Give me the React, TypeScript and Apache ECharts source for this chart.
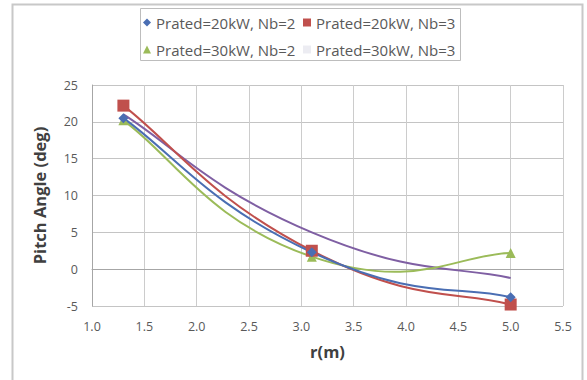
import React, { useEffect, useRef } from "react";
import * as echarts from "echarts";

const rValues = [1.3, 3.1, 5.0];
const s20kW2 = [20.5, 2.3, -3.8];
const s20kW3 = [22.2, 2.5, -4.8];
const s30kW2 = [20.2, 1.7, 2.2];
const s30kW3 = [21.0, 5.0, -1.2];
const seriesNames = [
  "Prated=20kW, Nb=2",
  "Prated=20kW, Nb=3",
  "Prated=30kW, Nb=2",
  "Prated=30kW, Nb=3",
];
const xTicks = { min: 1.0, max: 5.5, step: 0.5 };
const yTicks = { min: -5, max: 25, step: 5 };

const FONT = "'Open Sans', 'Liberation Sans', sans-serif";
const TXT = "#595959";
const TENSION = 0.27;

function pairs(vals: number[]) {
  return rValues.map((r, i) => [r, vals[i]]);
}

function smoothPath(pts: number[][]): string {
  let d = `M${pts[0][0]},${pts[0][1]}`;
  for (let i = 0; i < pts.length - 1; i++) {
    const p0 = pts[Math.max(0, i - 1)];
    const p1 = pts[i];
    const p2 = pts[i + 1];
    const p3 = pts[Math.min(pts.length - 1, i + 2)];
    const c1x = p1[0] + (p2[0] - p0[0]) * TENSION;
    const c1y = p1[1] + (p2[1] - p0[1]) * TENSION;
    const c2x = p2[0] - (p3[0] - p1[0]) * TENSION;
    const c2y = p2[1] - (p3[1] - p1[1]) * TENSION;
    d += ` C${c1x},${c1y} ${c2x},${c2y} ${p2[0]},${p2[1]}`;
  }
  return d;
}

function curveSeries(name: string, vals: number[], color: string, z: number) {
  const data = pairs(vals);
  return {
    name,
    type: "custom",
    data,
    encode: { x: 0, y: 1 },
    clip: true,
    z,
    silent: true,
    renderItem: (params: any, api: any) => {
      if (params.dataIndex !== 0) return null;
      const pts = data.map((p) => api.coord(p));
      return {
        type: "path",
        shape: { pathData: smoothPath(pts) },
        style: { fill: "none", stroke: color, lineWidth: 2 },
      };
    },
  };
}

function markerSeries(name: string, vals: number[], color: string, symbol: string, size: number, z: number) {
  return {
    name,
    type: "scatter",
    data: pairs(vals),
    symbol,
    symbolSize: size,
    itemStyle: { color, opacity: 1 },
    z,
  };
}

export default function App() {
  const ref = useRef<HTMLDivElement>(null);
  useEffect(() => {
    if (!ref.current) return;
    const chart = echarts.init(ref.current, undefined, { renderer: "svg" });
    const colors = ["#4a6eb3", "#c0504d", "#9bbb59", "#7f5fa3"];
    const legendBase = {
      orient: "vertical" as const,
      itemWidth: 8,
      itemHeight: 8,
      itemGap: 12,
      textStyle: { color: TXT, fontSize: 15, fontFamily: FONT },
    };
    chart.setOption({
      animation: false,
      backgroundColor: "#ffffff",
      textStyle: { fontFamily: FONT },
      graphic: [
        {
          type: "rect",
          shape: { x: 12.5, y: 4.5, width: 570, height: 390 },
          style: { fill: "none", stroke: "#c8c8c8", lineWidth: 2 },
          silent: true,
        },
        {
          type: "rect",
          shape: { x: 140.5, y: 8.5, width: 320, height: 52 },
          style: { fill: "none", stroke: "#bdbdbd", lineWidth: 1 },
          silent: true,
        },
      ],
      legend: [
        {
          ...legendBase,
          left: 138,
          top: 10,
          data: [
            { name: seriesNames[0], icon: "diamond", itemStyle: { color: colors[0] } },
            { name: seriesNames[2], icon: "triangle", itemStyle: { color: colors[2] } },
          ],
        },
        {
          ...legendBase,
          left: 298,
          top: 10,
          data: [
            { name: seriesNames[1], icon: "rect", itemStyle: { color: colors[1] } },
            { name: seriesNames[3], icon: "rect", itemStyle: { color: "#ececf2" } },
          ],
        },
      ],
      grid: { left: 92, right: 24, top: 85, bottom: 74, containLabel: false },
      xAxis: {
        type: "value",
        min: xTicks.min,
        max: xTicks.max,
        interval: xTicks.step,
        name: "r(m)",
        nameLocation: "middle",
        nameGap: 37,
        nameTextStyle: { color: "#404040", fontSize: 16.5, fontWeight: "bold", fontFamily: FONT },
        axisLine: { show: true, lineStyle: { color: "#a6a6a6" } },
        axisTick: { show: false },
        axisLabel: {
          color: TXT,
          fontSize: 12.5,
          margin: 14,
          fontFamily: FONT,
          formatter: (v: number) => v.toFixed(1),
        },
        splitLine: { show: true, lineStyle: { color: "#cccccc" } },
      },
      yAxis: {
        type: "value",
        min: yTicks.min,
        max: yTicks.max,
        interval: yTicks.step,
        name: "Pitch Angle (deg)",
        nameLocation: "middle",
        nameGap: 44,
        nameTextStyle: { color: "#404040", fontSize: 16.5, fontWeight: "bold", fontFamily: FONT },
        axisLine: { show: true, lineStyle: { color: "#a6a6a6" } },
        axisTick: { show: false },
        axisLabel: { color: TXT, fontSize: 12.5, margin: 14, fontFamily: FONT },
        splitLine: { show: true, lineStyle: { color: "#c4c4c4" } },
      },
      series: [
        curveSeries(seriesNames[3], s30kW3, colors[3], 2),
        curveSeries(seriesNames[2], s30kW2, colors[2], 3),
        curveSeries(seriesNames[1], s20kW3, colors[1], 4),
        curveSeries(seriesNames[0], s20kW2, colors[0], 5),
        markerSeries(seriesNames[2], s30kW2, colors[2], "triangle", 10, 6),
        markerSeries(seriesNames[1], s20kW3, colors[1], "rect", 12, 7),
        markerSeries(seriesNames[0], s20kW2, colors[0], "diamond", 10, 8),
      ],
    });
    return () => chart.dispose();
  }, []);
  return <div ref={ref} style={{ width: 587, height: 380, position: "absolute", left: 0, top: 0 }} />;
}
